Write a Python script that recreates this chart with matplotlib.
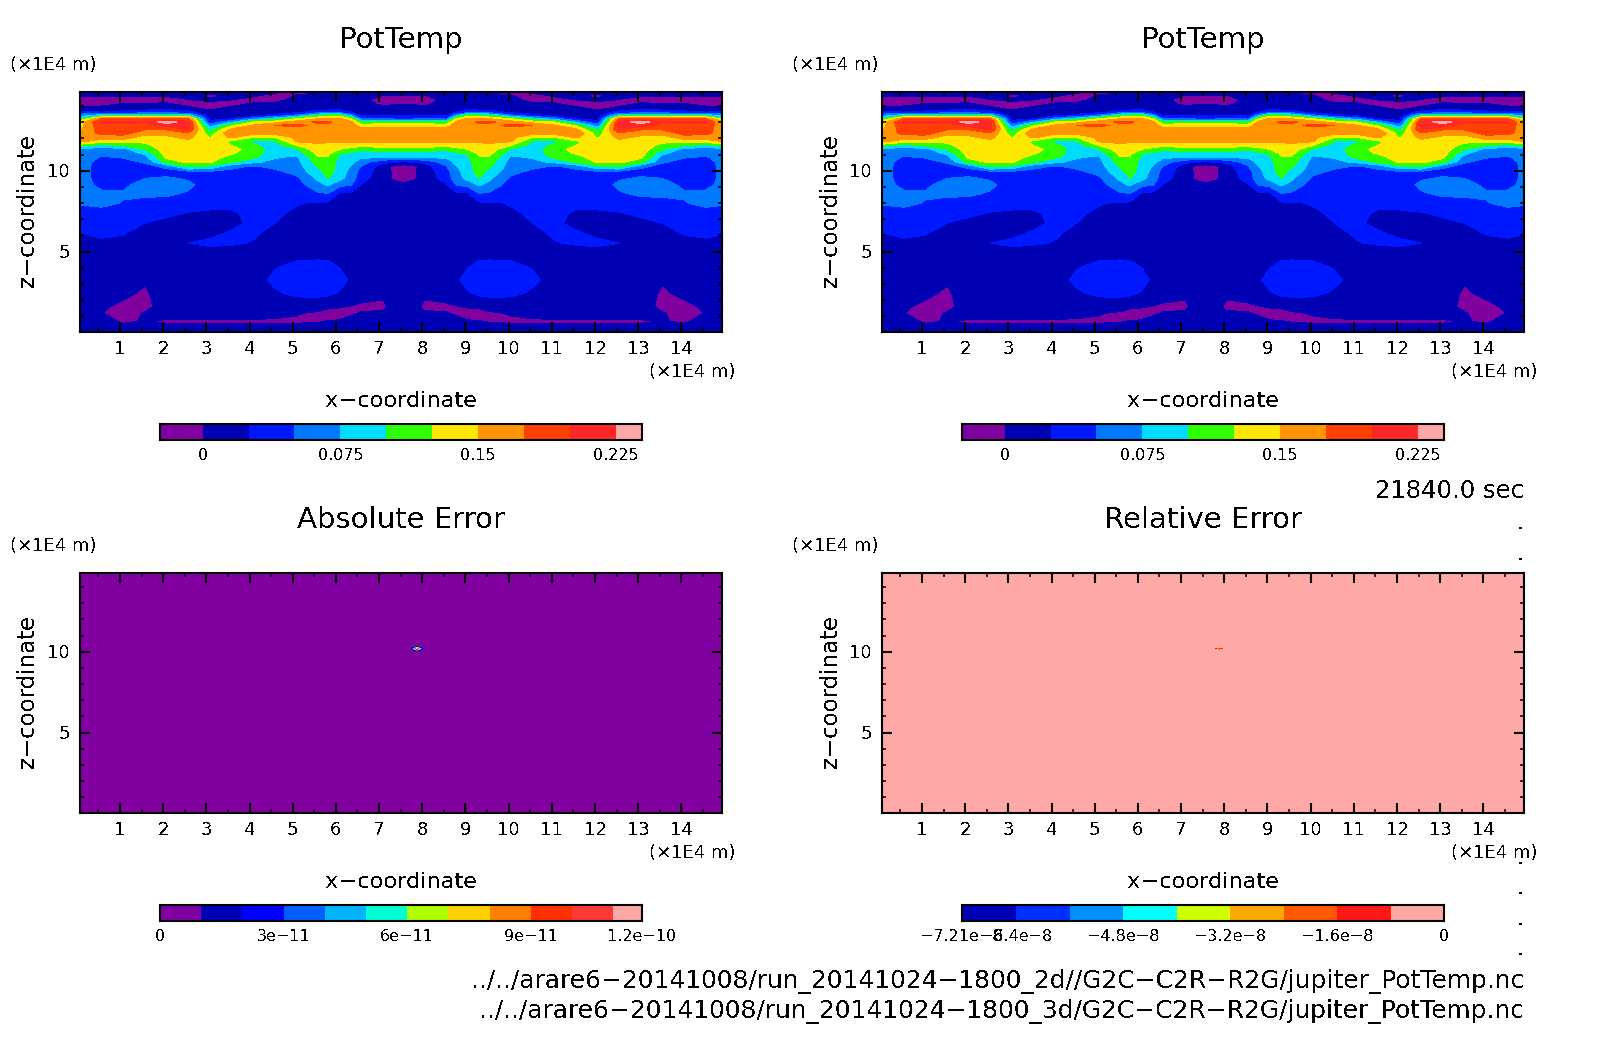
import numpy as np
import matplotlib
matplotlib.use("Agg")
import matplotlib.pyplot as plt
from matplotlib.colors import ListedColormap

plt.rcParams['font.family'] = ['DejaVu Sans']
plt.rcParams['text.antialiased'] = False

W, H = 1604, 1054

# Field, in units of one colour step (0.025), column by column
z_rows = [14.86,14.61,14.37,14.12,13.87,13.62,13.42,13.21,13.01,12.80,12.55,12.31,12.06,11.81,
          11.56,11.32,11.07,10.82,10.53,10.25,9.94,9.53,9.12,8.60,7.99,7.37,6.75,6.14,5.52,4.90,
          4.08,3.26,2.43,1.61,1.20,0.69,0.04]
x_half = [0.075,0.576,1.077,1.578,2.080,2.581,3.082,3.583,4.084,4.585,5.087,5.588,5.819,6.089,6.359,6.590,7.091,7.323,7.570]
col0 = [-.2,.1,-.5,-.5,.3,1.2,2.5,4,5.5,5.6,5.8,6.2,6.5,6.2,4.5,2.6,2.5,2.5,2.5,2.5,2.5,2.5,2.5,2.5,2.1,1.5,1.2,1.0,.7,.6,.5,.5,.4,.4,.4,.4,.4]
col1 = [.2,.05,-.5,-.4,.4,1.0,3.5,7.0,8.1,7.8,7.6,7.3,6.5,5.5,3.5,2.6,2.3,1.9,1.6,1.5,1.5,1.5,1.7,2.2,2.2,1.7,1.4,1.1,.9,.7,.5,.4,.3,.2,.05,.3,.4]
col2 = [.3,.1,-.5,.1,.5,1.2,3.5,7.2,8.1,7.9,7.7,7.4,6.5,5.5,4.2,2.6,2.4,2.05,1.7,1.6,1.5,1.5,1.8,2.1,1.95,1.6,1.3,1.05,.8,.6,.4,.3,.3,-.3,-.5,-.1,.5]
col3 = [.1,.0,-.5,.1,.6,1.4,3.8,7,8.1,7.6,7.1,6.3,5.6,5.2,4.7,4.1,3.2,2.6,2.1,1.7,1.6,2.0,2.4,2.2,1.7,1.3,1.0,.7,.5,.4,.3,.15,-.2,-.4,.1,.05,.5]
col4 = [.2,.05,-.5,.2,.7,1.5,3.5,7,9.6,8.4,7.1,6.3,5.8,5.6,5.6,5.6,5.5,5.2,4.4,2.2,1.7,2.1,2.6,2.2,1.6,1.15,.8,.6,.5,.5,.4,.4,.7,.7,.3,-.1,.5]
col5 = [.1,.3,-.05,-.4,.3,1.3,3.5,7,8.3,8.4,8.1,6.9,6.3,5.7,5.5,5.5,5.5,5.5,5.2,4.1,1.8,1.9,2.2,1.9,1.4,.95,.7,.5,1.0,.7,.5,.5,.4,.3,.3,-.1,.5]
col6 = [.2,-.2,.3,-.5,-.4,.4,.5,.8,1.2,2.4,3.6,4.4,4.9,5.5,5.6,5.6,5.6,5.5,5.1,3.8,1.9,1.6,1.5,1.4,1.2,.9,.7,.8,1.2,.6,.5,.5,.4,.3,.3,-.1,.5]
col7 = [.1,.1,.0,-.5,.3,.6,.7,1,2.8,4.8,6.2,7,6.2,4.8,5,5.4,5.1,4.6,4.2,2.2,1.8,1.6,1.5,1.4,1.2,.9,.8,1.1,1.1,.6,.5,.5,.4,.3,.3,-.1,.5]
col8 = [.1,.1,-.5,.2,.3,.6,.8,2.5,5,6.1,6.6,6.3,5.0,3.8,4.2,4.5,4.5,4.2,3.2,1.9,1.6,1.5,1.5,1.4,1.3,1.2,1.15,1.1,.95,.6,.5,.45,.4,.3,.3,-.1,.5]
col9 = [.2,-.5,-.3,.2,.3,.6,1.2,3.5,5.6,7,6.6,6.3,5,3.9,3.5,3.5,3.4,3.1,2.7,2.2,1.8,1.6,1.4,1.3,1.2,1.1,1,.8,.7,.5,.9,1.3,.8,.3,.2,-.1,.5]
col10 = [-.2,.1,.3,.4,.4,.7,2.2,5,6.5,7.2,6.7,6.5,6.3,6.1,5,3.9,3.3,2.8,2.6,2.5,2.3,1.8,1.5,1.3,1.05,.9,.8,.7,.6,.6,1.3,1.6,1.3,.2,.05,-.1,.5]
col11 = [-.1,.2,.4,.4,.5,1.5,4,6,7.2,6.8,6.7,6.5,6.3,6.1,5.9,5.7,5.3,4.9,4.5,4.1,3.7,3.2,2.7,1.9,.9,.8,.7,.6,.6,.7,1.3,1.6,1.3,.3,-.1,-.05,.5]
col_a = [.1,.3,.4,.5,.5,1.5,4.3,6.1,7.2,6.8,6.7,6.5,6.3,6.1,5.8,5.6,5.2,4.9,4.6,4.5,4.4,4.0,3.1,2.0,.85,.75,.65,.6,.6,.7,1.25,1.6,1.2,.2,-.4,.05,.5]
col12 = [-.1,.3,.5,.5,.6,1.6,4.5,6.2,6.6,6.6,6.6,6.5,6.3,6.1,5.7,5.0,4.1,3.8,3.7,3.6,3.6,3.3,2.3,.9,.8,.7,.6,.6,.6,.6,.95,1.4,.9,.1,-.4,.1,.5]
col_b = [.3,.4,.5,.5,.5,1,2.5,5,6.2,6.4,6.5,6.5,6.3,6.1,5.5,4.6,3.8,3.5,3.2,2.9,2.6,2.5,2.0,.8,.7,.7,.6,.6,.6,.55,.6,.8,.8,-.05,-.2,.5,.5]
col13 = [-.1,.3,.3,.4,.3,.6,.8,1.8,4,5.5,6.3,6.4,6.3,6.2,5.3,4.2,3.5,3.1,2.5,1.9,1.6,1.4,.9,.7,.7,.6,.6,.6,.6,.55,.5,.5,.8,-.3,.1,.4,.5]
col14 = [.2,-.05,-.5,-.2,.3,.6,.9,2,4.3,5.6,6.3,6.5,6.4,6.2,5.5,4.5,3.6,3.1,1.2,.5,.4,.4,.5,.5,.5,.5,.5,.5,.5,.5,.5,.5,.3,-.3,.2,.5,.5]
col_c = [.3,-.1,-.5,-.1,.4,.6,.9,1.8,4.2,5.6,6.3,6.5,6.4,6.2,5.6,4.6,3.6,3.0,1.0,-.2,-.1,-.1,.3,.45,.5,.5,.5,.5,.5,.5,.5,.5,.5,.5,.5,.5,.5]
col15 = [.4,-.1,-.6,-.1,.4,.6,.9,1.6,4.2,5.6,6.3,6.5,6.4,6.2,5.6,4.6,3.6,3.0,.9,-.6,-.7,-.4,.2,.4,.5,.5,.5,.5,.5,.5,.6,.6,.6,.5,.5,.5,.5]

pot_colors = ['#8000A0','#0000B4','#0018FF','#0078FF','#00DCFF','#2CFF00','#FFE800','#FF9400','#FF4000','#FF2828','#FFA8A8']
pot_levels = [-0.0233,0,0.025,0.05,0.075,0.1,0.125,0.15,0.175,0.2,0.225,0.2394]
pot_ticks = [0,0.075,0.15,0.225]
pot_labels = ['0','0.075','0.15','0.225']

abs_colors = ['#8000A0','#0000B4','#0000FF','#0060FF','#00B4FF','#00FFD0','#B0FF00','#FFD000','#FF8000','#FF3000','#FF3838','#FFA8A8']
abs_levels = [0,1e-11,2e-11,3e-11,4e-11,5e-11,6e-11,7e-11,8e-11,9e-11,1e-10,1.1e-10,1.17e-10]
abs_ticks = [0,3e-11,6e-11,9e-11,1.17e-10]
abs_labels = ['0','3e\u221211','6e\u221211','9e\u221211','1.2e\u221210']

rel_colors = ['#0000B4','#0030FF','#0090FF','#00FFFF','#D0FF00','#FFA800','#FF5800','#FF1818','#FFA8A8']
rel_levels = [-7.21e-8,-6.4e-8,-5.6e-8,-4.8e-8,-4e-8,-3.2e-8,-2.4e-8,-1.6e-8,-0.8e-8,0]
rel_ticks = [-7.21e-8,-6.4e-8,-4.8e-8,-3.2e-8,-1.6e-8,0]
rel_labels = ['\u22127.21e\u22128','\u22126.4e\u22128','\u22124.8e\u22128','\u22123.2e\u22128','\u22121.6e\u22128','0']

# Error fields: flat background with one small spot near x=7.9, z=10.2
err_x = [0.075,7.73,7.81,7.88,7.95,8.03,14.94]
err_z = [0.04,10.07,10.14,10.2,10.26,10.33,14.86]
abs_err = [[0,0,0,0,0,0,0],[0,0,0,0,0,0,0],[0,0,3e-11,8e-11,3e-11,0,0],[0,0,5e-11,1.17e-10,5e-11,0,0],[0,0,1e-11,3e-11,1e-11,0,0],[0,0,0,0,0,0,0],[0,0,0,0,0,0,0]]
rel_err = [[0,0,0,0,0,0,0],[0,0,0,0,0,0,0],[0,0,-1.0e-8,-2.0e-8,-1.0e-8,0,0],[0,0,-2.0e-8,-3.0e-8,-2.0e-8,0,0],[0,0,-0.8e-8,-1.6e-8,-0.8e-8,0,0],[0,0,0,0,0,0,0],[0,0,0,0,0,0,0]]

titles = ['PotTemp','PotTemp','Absolute Error','Relative Error']
x_label = 'x\u2212coordinate'
z_label = 'z\u2212coordinate'
unit_label = '(\u00d71E4 m)'
time_label = '21840.0 sec'
path_lines = ['../../arare6\u221220141008/run_20141024\u22121800_2d//G2C\u2212C2R\u2212R2G/jupiter_PotTemp.nc',
              '../../arare6\u221220141008/run_20141024\u22121800_3d/G2C\u2212C2R\u2212R2G/jupiter_PotTemp.nc']
x_ticks = list(range(1,15))
z_ticks = [5,10]
dot_rows = [527,558,862,892,923,953]

fig = plt.figure(figsize=(W/100,H/100),dpi=100,facecolor='white')

def add_px_axes(x0,y0,x1,y1):
    return fig.add_axes([x0/W,1-y1/H,(x1-x0)/W,(y1-y0)/H])

def put(x,y,s,size,ha='center',va='center',rot=0,**kw):
    fig.text(x/W,1-y/H,s,fontsize=size,ha=ha,va=va,rotation=rot,color='black',**kw)

half = np.array([col0,col1,col2,col3,col4,col5,col6,col7,col8,col9,col10,col11,col_a,col12,col_b,col13,col14,col_c,col15]).T
field = np.hstack([half,half[:,-2::-1]])*0.025
xh = np.array(x_half)
x_full = np.concatenate([xh,2*xh[-1]-xh[-2::-1]])
z_full = np.array(z_rows)

def panel(dx,dy,title,X,Z,V,cols,levs,ticks,labs,unit_x):
    ax = add_px_axes(80+dx,92+dy,722+dx,332+dy)
    cmap = ListedColormap(cols)
    big = max(abs(levs[0]),abs(levs[-1]))*50
    ax.contourf(X,Z,V,levels=[-big]+list(levs[1:-1])+[big],colors=cols,antialiased=False)
    ax.set_xlim(0.075,14.94)
    ax.set_ylim(0.04,14.86)
    ax.set_xticks(x_ticks)
    ax.set_xticks(np.arange(0.5,15,1),minor=True)
    ax.set_yticks(z_ticks)
    ax.set_yticks(np.arange(1,15,1),minor=True)
    ax.set_xticklabels([])
    ax.set_yticklabels([])
    ax.tick_params(which='major',direction='in',length=7,width=1.5,top=True,right=True)
    ax.tick_params(which='minor',direction='in',length=3,width=1.1,top=True,right=True)
    for s in ax.spines.values():
        s.set_linewidth(1.5)
    for t in x_ticks:
        px = 80+dx+(t-0.075)/(14.94-0.075)*642
        put(px,349+dy,str(t),13)
    for t in z_ticks:
        py = 332+dy-(t-0.04)/(14.86-0.04)*240
        put(70+dx,py+1,str(t),13,ha='right')
    put(401+dx,40+dy-(1 if dy else 0),title,21)
    put(unit_x,65+dy,unit_label,13,ha='left')
    put(692+dx,372+dy,unit_label,13)
    put(401+dx,401+dy,x_label,16.2)
    put(28+dx,210+dy,z_label,16.5,rot=90)
    cax = add_px_axes(160+dx,424+dy,642+dx,440+dy)
    cax.pcolormesh(np.array(levs),[0,1],np.arange(len(cols)).reshape(1,-1),cmap=cmap,
                   vmin=-0.5,vmax=len(cols)-0.5,antialiased=False)
    cax.set_xlim(levs[0],levs[-1])
    cax.set_yticks([])
    cax.set_xticks([])
    for s in cax.spines.values():
        s.set_linewidth(1.5)
    for t,l in zip(ticks,labs):
        px = 160+dx+(t-levs[0])/(levs[-1]-levs[0])*482
        put(px,455.5+dy,l,11.5)

DX,DY = 802,481
panel(0,0,titles[0],x_full,z_full,field,pot_colors,pot_levels,pot_ticks,pot_labels,10)
panel(DX,0,titles[1],x_full,z_full,field,pot_colors,pot_levels,pot_ticks,pot_labels,792)
panel(0,DY,titles[2],err_x,err_z,np.array(abs_err),abs_colors,abs_levels,abs_ticks,abs_labels,10)
panel(DX,DY,titles[3],err_x,err_z,np.array(rel_err),rel_colors,rel_levels,rel_ticks,rel_labels,792)

put(1524,491,time_label,17.5,ha='right')
put(1524,981,path_lines[0],17.9,ha='right')
put(1524,1011,path_lines[1],17.9,ha='right')
for y in dot_rows:
    put(1520,y+2,'.',9,va='baseline',weight='bold')

fig.savefig('out.png',dpi=100,facecolor='white')
